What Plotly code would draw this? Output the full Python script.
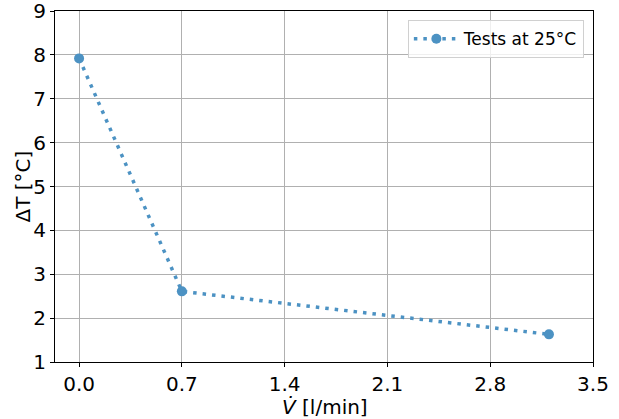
import plotly.graph_objects as go

# Measured temperature difference versus volume flow
flow_lpm = [0.0, 0.7, 3.2]
delta_t = [7.92, 2.61, 1.63]
series_name = "Tests at 25°C"

x_ticks = [0.0, 0.7, 1.4, 2.1, 2.8, 3.5]
y_ticks = [1, 2, 3, 4, 5, 6, 7, 8, 9]

blue = "rgb(76,146,195)"
font_family = "DejaVu Sans"
label_font = dict(family=font_family, size=20, color="black")

fig = go.Figure()
fig.add_trace(go.Scatter(
    x=flow_lpm,
    y=delta_t,
    mode="lines+markers",
    name=series_name,
    line=dict(color=blue, width=3.5, dash="3.5px,6px"),
    marker=dict(color=blue, size=10),
))

axis_common = dict(
    showgrid=True,
    gridcolor="#b0b0b0",
    gridwidth=1,
    showline=True,
    linecolor="black",
    linewidth=1,
    mirror=True,
    ticks="outside",
    ticklen=4,
    tickcolor="black",
    zeroline=False,
    automargin=False,
    ticklabeloverflow="allow",
    tickfont=label_font,
)

fig.update_xaxes(
    range=[-0.164, 3.5],
    tickvals=x_ticks,
    ticktext=[f"{v:.1f}" for v in x_ticks],
    **axis_common,
)
fig.update_yaxes(
    range=[1, 9],
    tickvals=y_ticks,
    **axis_common,
)

# Axis titles
fig.add_annotation(
    text="<i>V̇</i> [l/min]", xref="paper", yref="paper",
    x=0.502, y=-0.129, xanchor="center", yanchor="middle",
    showarrow=False, font=label_font,
)
fig.add_annotation(
    text="ΔT [°C]", xref="paper", yref="paper",
    x=-0.0595, y=0.5, xanchor="center", yanchor="middle",
    textangle=-90, showarrow=False, font=label_font,
)

fig.update_layout(
    width=619,
    height=419,
    margin=dict(l=55, r=26, t=11, b=57),
    paper_bgcolor="white",
    plot_bgcolor="white",
    showlegend=True,
    legend=dict(
        x=0.983, y=0.974, xanchor="right", yanchor="top",
        bgcolor="rgba(255,255,255,0.8)",
        bordercolor="#d0d0d0", borderwidth=1,
        itemwidth=45,
        font=dict(family=font_family, size=17, color="black"),
    ),
)

fig.write_html("out.html")
